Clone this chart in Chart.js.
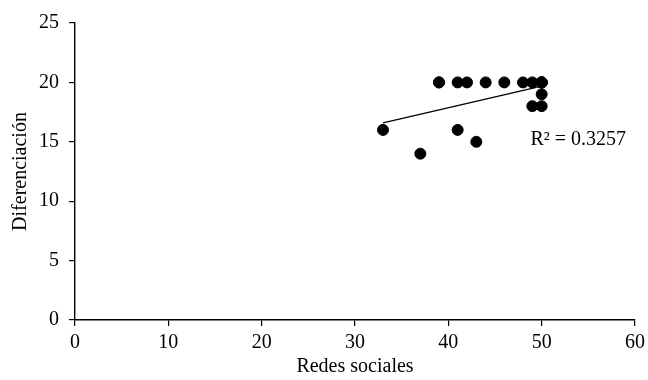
<!DOCTYPE html>
<html>
<head>
<meta charset="utf-8">
<script src="https://cdn.jsdelivr.net/npm/chart.js@4"></script>
<style>
  html, body { margin: 0; padding: 0; background: #fff; }
  #wrap { width: 648px; height: 380px; }
</style>
</head>
<body>
<div id="wrap"><canvas id="chart" width="648" height="380"></canvas></div>
<script>
// values (duplicates assumed where dots overlap)
const redesSociales = [39, 39, 41, 42, 44, 46, 48, 49, 50, 50, 50, 50, 50, 49, 50, 33, 41, 37, 43];
const diferenciacion = [20, 20, 20, 20, 20, 20, 20, 20, 20, 20, 20, 20, 19, 18, 18, 16, 16, 14, 15];
const xTicks = [0, 10, 20, 30, 40, 50, 60];
const yTicks = [0, 5, 10, 15, 20, 25];
const r2Label = 'R² = 0.3257';

// least squares trend line
function linearFit(xs, ys) {
    const n = xs.length;
    const mx = xs.reduce((a, b) => a + b, 0) / n;
    const my = ys.reduce((a, b) => a + b, 0) / n;
    let sxy = 0, sxx = 0;
    for (let i = 0; i < n; i++) {
        sxy += (xs[i] - mx) * (ys[i] - my);
        sxx += (xs[i] - mx) ** 2;
    }
    const slope = sxy / sxx;
    return { slope, intercept: my - slope * mx };
}

const fit = linearFit(redesSociales, diferenciacion);
const xMin = Math.min(...redesSociales);
const xMax = Math.max(...redesSociales);
const trendPoints = [xMin, xMax].map(x => ({ x, y: fit.intercept + fit.slope * x }));
const points = redesSociales.map((x, i) => ({ x, y: diferenciacion[i] }));

const FONT = 'Liberation Serif, Times New Roman, serif';
const FONT_SIZE = 20;

const r2Plugin = {
    id: 'r2Plugin',
    afterDatasetsDraw(chart) {
        const { ctx, scales } = chart;
        ctx.save();
        ctx.font = FONT_SIZE + 'px ' + FONT;
        ctx.fillStyle = '#000';
        ctx.textBaseline = 'middle';
        ctx.textAlign = 'left';
        ctx.fillText(r2Label, scales.x.getPixelForValue(48.8), scales.y.getPixelForValue(15.2));
        ctx.restore();
    }
};

new Chart(document.getElementById('chart'), {
    type: 'scatter',
    data: {
        datasets: [{
            label: 'Datos',
            data: points,
            backgroundColor: '#000',
            borderColor: '#000',
            pointRadius: 5.5,
            pointHoverRadius: 5.5
        }, {
            type: 'line',
            label: 'Tendencia',
            data: trendPoints,
            borderColor: '#000',
            borderWidth: 1.3,
            pointRadius: 0,
            fill: false
        }]
    },
    options: {
        responsive: false,
        animation: false,
        layout: { padding: { left: 5, right: 13, top: 23, bottom: 1 } },
        plugins: {
            legend: { display: false },
            tooltip: { enabled: false }
        },
        scales: {
            x: {
                type: 'linear',
                min: 0,
                max: 60,
                afterBuildTicks: scale => { scale.ticks = xTicks.map(v => ({ value: v })); },
                grid: { drawOnChartArea: false, color: '#000', tickLength: 6, lineWidth: 1.2 },
                border: { color: '#000', width: 1.4 },
                ticks: { color: '#000', font: { family: FONT, size: FONT_SIZE }, padding: 5, maxRotation: 0 },
                title: { display: true, text: 'Redes sociales', color: '#000', font: { family: FONT, size: FONT_SIZE }, padding: { top: 0, bottom: 0 } },
                afterFit: scale => {
                    scale.height = 59;
                    scale.paddingRight = 0;
                    scale.paddingLeft = 0;
                }
            },
            y: {
                type: 'linear',
                min: 0,
                max: 25,
                afterBuildTicks: scale => { scale.ticks = yTicks.map(v => ({ value: v })); },
                grid: { drawOnChartArea: false, color: '#000', tickLength: 6, lineWidth: 1.2 },
                border: { color: '#000', width: 1.4 },
                ticks: { color: '#000', font: { family: FONT, size: FONT_SIZE }, padding: 10 },
                title: { display: true, text: 'Diferenciación', color: '#000', font: { family: FONT, size: FONT_SIZE }, padding: { top: 4, bottom: 0 } },
                afterFit: scale => { scale.width = 70; }
            }
        }
    },
    plugins: [r2Plugin]
});
</script>
</body>
</html>
